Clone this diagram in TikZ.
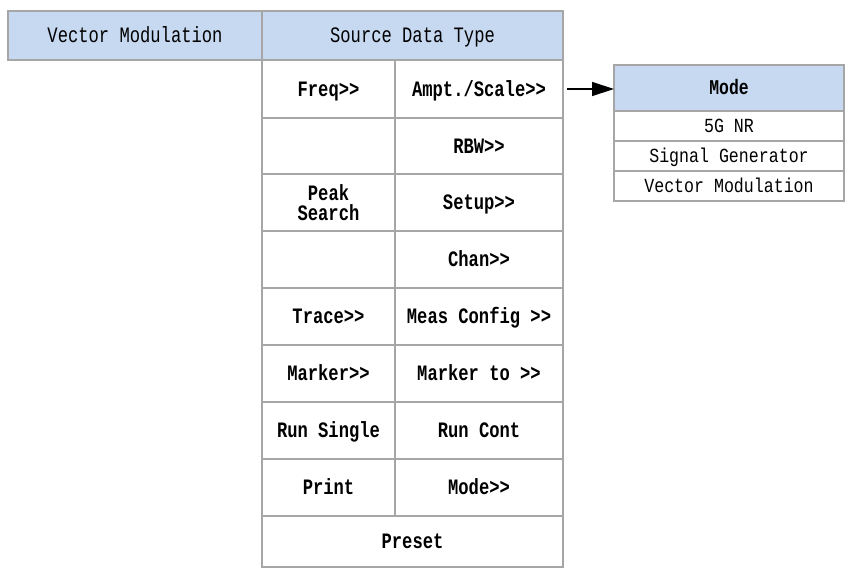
\documentclass[tikz,border=0pt]{standalone}
\usepackage{fontspec}
\setmainfont{Liberation Mono}
\newfontfamily\tallmono[FakeStretch=0.78]{Liberation Mono}
\newfontfamily\tallmonob[FakeStretch=0.83]{Liberation Mono}
\usetikzlibrary{arrows.meta}
\definecolor{hdr}{HTML}{C6D9F0}
\definecolor{bord}{HTML}{A6A6A6}
\newcommand\dgt{>{}>}
\begin{document}
\begin{tikzpicture}[x=1pt,y=-1pt,
  box/.style={draw=bord, line width=1.5pt, fill=white, inner sep=0pt, outer sep=0pt, align=center, text=black, text height=15pt, text depth=0.7pt},
  hbox/.style={box, fill=hdr, font=\tallmono\fontsize{22}{20}\selectfont},
  cbox/.style={box, font=\tallmono\fontsize{22}{20}\selectfont\bfseries},
  mbox/.style={box, minimum width=230pt, minimum height=30pt, font=\tallmonob\fontsize{20}{20}\selectfont, text height=13.5pt, text depth=0.6pt},
  c1/.style={cbox, minimum width=133pt},
  c2/.style={cbox, minimum width=168pt},
  arr/.style={-{Triangle[length=22pt,width=14pt]}, line width=1.3pt, black}]
\useasboundingbox (0,0) rectangle (845,568);
% header row
\node[hbox, minimum width=254pt, minimum height=49pt] (vm) at (135,35.5) {Vector Modulation};
\node[hbox, minimum width=301pt, minimum height=49pt] (sdt) at (412.5,35.5) {Source Data Type};
% grid
\node[c1, minimum height=58pt] (freq) at (328.5,89) {Freq\dgt};
\node[c2, minimum height=58pt] (ampt) at (479,89) {Ampt./Scale\dgt};
\node[c1, minimum height=56pt] (e1) at (328.5,146) {};
\node[c2, minimum height=56pt] (rbw) at (479,146) {RBW\dgt};
\node[c1, minimum height=57pt, text height=, text depth=] (peak) at (328.5,202.5) {Peak\\Search};
\node[c2, minimum height=57pt] (setup) at (479,202.5) {Setup\dgt};
\node[c1, minimum height=57pt] (e2) at (328.5,259.5) {};
\node[c2, minimum height=57pt] (chan) at (479,259.5) {Chan\dgt};
\node[c1, minimum height=57pt] (trace) at (328.5,316.5) {Trace\dgt};
\node[c2, minimum height=57pt] (meas) at (479,316.5) {Meas Config \dgt};
\node[c1, minimum height=57pt] (marker) at (328.5,373.5) {Marker\dgt};
\node[c2, minimum height=57pt] (markerto) at (479,373.5) {Marker to \dgt};
\node[c1, minimum height=57pt] (runs) at (328.5,430.5) {Run Single};
\node[c2, minimum height=57pt] (runc) at (479,430.5) {Run Cont};
\node[c1, minimum height=57pt] (print) at (328.5,487.5) {Print};
\node[c2, minimum height=57pt] (modek) at (479,487.5) {Mode\dgt};
\node[cbox, minimum width=301pt, minimum height=51pt] (preset) at (412.5,541.5) {Preset};
% mode box
\node[mbox, fill=hdr, minimum height=46pt, font=\tallmono\fontsize{21}{20}\selectfont\bfseries] (modeh) at (729,88) {Mode};
\node[mbox] (m1) at (729,126) {5G NR};
\node[mbox] (m2) at (729,156) {Signal Generator};
\node[mbox] (m3) at (729,186) {Vector Modulation};
% arrow
\draw[arr] ([xshift=4pt]ampt.east) -- (ampt.east -| modeh.west);
\end{tikzpicture}
\end{document}
